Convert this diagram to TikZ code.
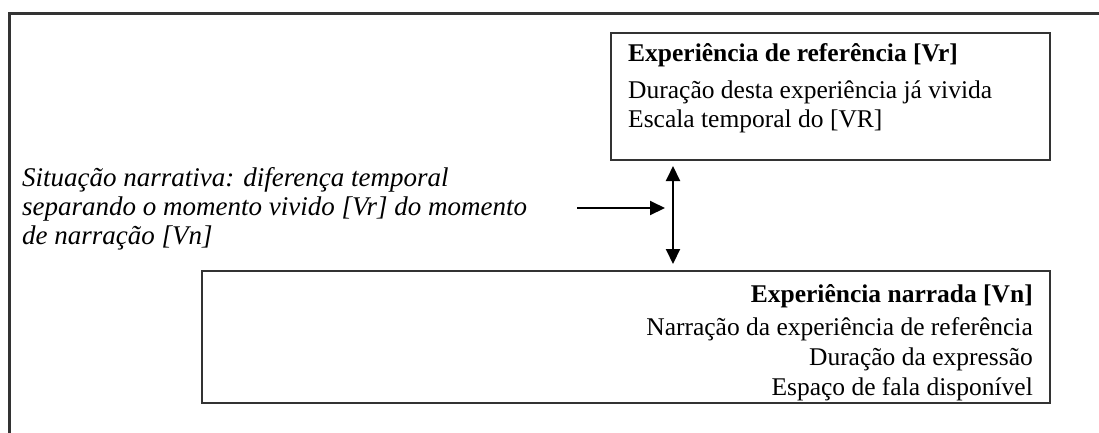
\documentclass[tikz,border=0pt]{standalone}
\usepackage{fontspec}
\setmainfont{Liberation Serif}
\usetikzlibrary{arrows.meta}
\begin{document}
\begin{tikzpicture}[x=1pt,y=-1pt,
  frame/.style={draw=black!80, line width=2.5pt},
  boxnode/.style={draw=black!80, line width=2pt, rectangle, inner sep=0pt},
  txt/.style={anchor=base west, inner sep=0pt, font=\fontsize{25.5}{30}\selectfont},
  ttl/.style={anchor=base west, inner sep=0pt, font=\fontsize{25.5}{30}\selectfont\bfseries},
  txtr/.style={anchor=base east, inner sep=0pt, font=\fontsize{25.5}{30}\selectfont},
  ttlr/.style={anchor=base east, inner sep=0pt, font=\fontsize{25.5}{30}\selectfont\bfseries},
  itx/.style={anchor=base west, inner sep=0pt, font=\fontsize{27}{29}\selectfont\itshape},
  tip/.style={Triangle[width=14pt,length=15pt]},
  conn/.style={line width=2pt, -{Triangle[width=14pt,length=15pt]}},
  dconn/.style={line width=2pt, {Triangle[width=14pt,length=15pt]}-{Triangle[width=14pt,length=15pt]}}
]
\useasboundingbox (0,0) rectangle (1099,432);
% outer frame
\draw[frame] (9.5,440) -- (9.5,13.5) -- (1105,13.5);
% boxes
\node[boxnode, minimum width=439pt, minimum height=127pt] (top) at (830.5,96.5) {};
\node[boxnode, minimum width=848pt, minimum height=132pt] (low) at (626,337) {};
% top box text
\node[ttl] (t0) at (628,61) {Experiência de referência [Vr]};
\node[txt] (t1) at (628,98) {Duração desta experiência já vivida};
\node[txt] (t2) at (628,127) {Escala temporal do [VR]};
% lower box text
\node[ttlr] (l0) at (1033,302) {Experiência narrada [Vn]};
\node[txtr] (l1) at (1033,335) {Narração da experiência de referência};
\node[txtr] (l2) at (1033,365) {Duração da expressão};
\node[txtr] (l3) at (1033,395) {Espaço de fala disponível};
% situation text
\node[itx] (s1) at (22,186) {Situação narrativa: diferença temporal};
\node[itx] (s2) at (22,215) {separando o momento vivido [Vr] do momento};
\node[itx] (s3) at (22,244) {de narração [Vn]};
% connectors
\coordinate (va) at (673,0);
\draw[dconn, shorten <=5pt, shorten >=6pt] (top.south -| va) -- (low.north -| va);
\coordinate (hs) at (577,208);
\coordinate (hm) at (673,208);
\draw[conn, shorten >=8pt] (hs) -- (hm);
\end{tikzpicture}
\end{document}
